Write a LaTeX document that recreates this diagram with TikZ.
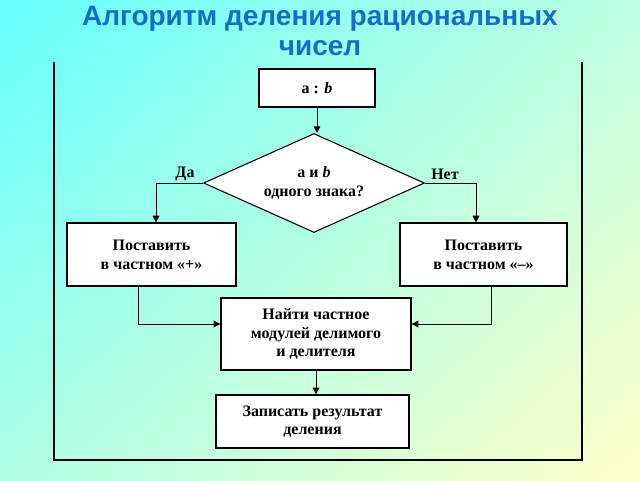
\documentclass[tikz,border=0pt]{standalone}
\usepackage{fontspec}
\setmainfont{Liberation Serif}
\newfontfamily\titlefont{Liberation Sans}
\usetikzlibrary{shapes.geometric,arrows.meta,shadings}
\definecolor{tl}{RGB}{100,255,255}
\definecolor{tr}{RGB}{190,255,225}
\definecolor{bl}{RGB}{175,255,230}
\definecolor{br}{RGB}{255,255,200}
\definecolor{titleblue}{RGB}{20,110,200}
\begin{document}
\begin{tikzpicture}[x=0.75pt,y=-0.75pt,
  box/.style={draw=black,fill=white,line width=1pt,inner sep=0pt,align=center,font=\bfseries\fontsize{12}{14}\selectfont},
  line/.style={line width=0.7pt},
  arr/.style={line,-{Triangle[length=5pt,width=5pt]}},
  lab/.style={font=\bfseries\fontsize{12}{14}\selectfont}]
\useasboundingbox (0,0) rectangle (640,480);
\shade[upper left=tl,upper right=tr,lower left=bl,lower right=br] (0,0) rectangle (640,480);
\node[font=\titlefont\bfseries\fontsize{21}{23}\selectfont,text=titleblue,align=center] (title) at (320,31) {Алгоритм деления рациональных\\чисел};
\draw[line width=0.8pt] (54,62) -- (54,460) -- (582,460) -- (582,62);
\node[box,minimum width=116*0.75pt,minimum height=38*0.75pt] (ab) at (317,88) {а : \textit{b}};
\node[draw=black,fill=white,line width=0.8pt,diamond,aspect=2.23,minimum width=221*0.75pt,minimum height=99*0.75pt,inner sep=0pt,align=center,font=\bfseries\fontsize{12}{14}\selectfont] (d) at (314,183) {а и \textit{b}\\одного знака?};
\node[box,minimum width=169*0.75pt,minimum height=63*0.75pt] (L) at (151.5,254.5) {Поставить\\в частном «+»};
\node[box,minimum width=167*0.75pt,minimum height=63*0.75pt] (R) at (483.5,254.5) {Поставить\\в частном «–»};
\node[box,minimum width=190*0.75pt,minimum height=72*0.75pt] (M) at (316,334) {Найти частное\\модулей делимого\\и делителя};
\node[box,minimum width=193*0.75pt,minimum height=53*0.75pt] (B) at (312.5,421.5) {Записать результат\\деления};
\draw[arr] (ab.south) -- (ab.south |- d.north);
\draw[arr] (d.west) -| (L.north -| 156,0);
\draw[arr] (d.east) -| (R.north -| 476,0);
\node[lab] (da) at (185,174) {Да};
\node[lab] (net) at (445,174) {Нет};
\draw[arr] (L.south -| 138,0) |- (M.west |- 0,324);
\draw[arr] (R.south -| 491,0) |- (M.east |- 0,324);
\draw[arr] (M.south -| 316,0) -- (B.north -| 316,0);
\end{tikzpicture}
\end{document}
